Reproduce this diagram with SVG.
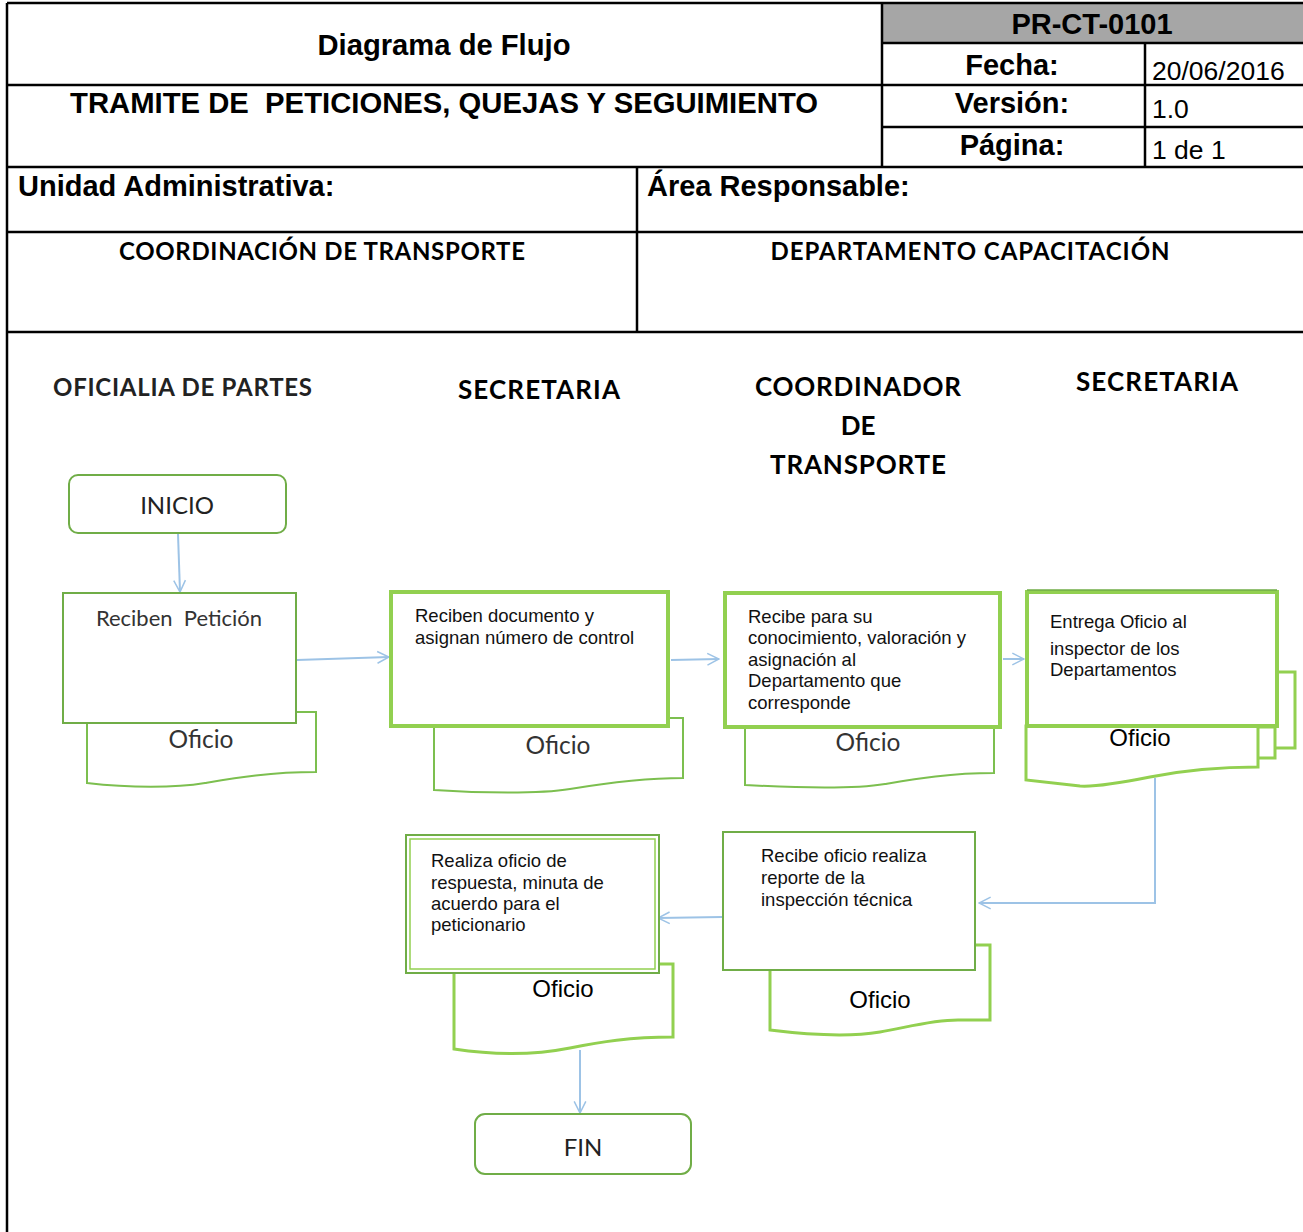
<svg xmlns="http://www.w3.org/2000/svg" width="1303" height="1232" viewBox="0 0 1303 1232">
<defs>
<marker id="arr" viewBox="0 0 12 12" refX="11" refY="6" markerWidth="14" markerHeight="14" markerUnits="userSpaceOnUse" orient="auto">
<path d="M1,1 L11,6 L1,11" fill="none" stroke="#9DC3E6" stroke-width="1.3"/>
</marker>
<style>
.tb{stroke:#000;stroke-width:2.5;fill:none}
.hb{font-family:"Liberation Sans",Arial,sans-serif;font-weight:bold;font-size:29px;fill:#000}
.hr{font-family:"Liberation Sans",Arial,sans-serif;font-size:26.5px;fill:#000}
.cb{font-family:Lato,"Open Sans",sans-serif;font-weight:bold;font-size:24px;fill:#000}
.lane{font-family:Lato,"Open Sans",sans-serif;font-weight:bold;font-size:26px;fill:#000}
.thin{fill:#fff;stroke:#70AD47;stroke-width:2}
.thick{fill:#fff;stroke:#92D050;stroke-width:4}
.doc{fill:#fff;stroke:#92D050;stroke-width:3}
.docthin{fill:#fff;stroke:#7CBF4F;stroke-width:2}
.bt{font-family:"Liberation Sans",Arial,sans-serif;font-size:18.5px;fill:#111}
.ct{font-family:Lato,"Open Sans",sans-serif;font-size:24.5px;fill:#333}
.ot{font-family:"Liberation Sans",Arial,sans-serif;font-size:24px;fill:#000}
.conn{fill:none;stroke:#9DC3E6;stroke-width:2}
</style>
</defs>

<g id="header">
<rect x="882" y="3" width="421" height="40" fill="#A6A6A6"/>
<path class="tb" d="M7,3 H1303 M7,3 V1232 M7,85 H882 M882,3 V167 M882,43 H1303 M882,85 H1303 M882,127 H1303 M1145,43 V167 M7,167 H1303 M637,167 V332 M7,232 H1303 M7,332 H1303"/>
<text class="hb" x="444" y="55" text-anchor="middle" textLength="253" lengthAdjust="spacingAndGlyphs">Diagrama de Flujo</text>
<text class="hb" x="70" y="113" textLength="748" lengthAdjust="spacingAndGlyphs" style="white-space:pre">TRAMITE DE  PETICIONES, QUEJAS Y SEGUIMIENTO</text>
<text class="hb" x="1092" y="34" text-anchor="middle">PR-CT-0101</text>
<text class="hb" x="1012" y="75" text-anchor="middle">Fecha:</text>
<text class="hb" x="1012" y="113" text-anchor="middle">Versión:</text>
<text class="hb" x="1012" y="155" text-anchor="middle">Página:</text>
<text class="hr" x="1152" y="80">20/06/2016</text>
<text class="hr" x="1152" y="118">1.0</text>
<text class="hr" x="1152" y="159">1 de 1</text>
<text class="hb" x="18" y="196">Unidad Administrativa:</text>
<text class="hb" x="647" y="196">Área Responsable:</text>
<text class="cb" x="322" y="260" text-anchor="middle" textLength="406">COORDINACIÓN DE TRANSPORTE</text>
<text class="cb" x="970" y="260" text-anchor="middle" textLength="399">DEPARTAMENTO CAPACITACIÓN</text>
</g>

<g id="lanes">
<text class="lane" x="53" y="396" textLength="259" style="font-size:24px;fill:#222">OFICIALIA DE PARTES</text>
<text class="lane" x="458" y="399" textLength="162">SECRETARIA</text>
<text class="lane" x="858" y="396" text-anchor="middle" textLength="206">COORDINADOR</text>
<text class="lane" x="858" y="435" text-anchor="middle">DE</text>
<text class="lane" x="858" y="474" text-anchor="middle" textLength="176">TRANSPORTE</text>
<text class="lane" x="1076" y="391" textLength="162">SECRETARIA</text>
</g>

<g id="connectors">
<path class="conn" d="M178,534 L180,592" marker-end="url(#arr)"/>
<path class="conn" d="M297,660 L389,657" marker-end="url(#arr)"/>
<path class="conn" d="M671,660 L719,659" marker-end="url(#arr)"/>
<path class="conn" d="M1003,659 L1024,659" marker-end="url(#arr)"/>
<path class="conn" d="M1155,778 V903 H979" marker-end="url(#arr)"/>
<path class="conn" d="M722,917 L658,918" marker-end="url(#arr)"/>
<path class="conn" d="M580,1050 V1113" marker-end="url(#arr)"/>
</g>

<g id="n-inicio">
<rect class="thin" x="69" y="475" width="217" height="58" rx="9"/>
<text class="ct" x="177" y="514" text-anchor="middle" style="font-size:24px;fill:#222">INICIO</text>
</g>

<g id="n-reciben-peticion">
<path class="docthin" d="M87,712 H316 V772 C270,772 235,778 205,783 C175,788 130,788 87,783 Z"/>
<rect class="thin" x="63" y="593" width="233" height="130"/>
<text class="ct" x="179" y="626" text-anchor="middle" style="font-size:22px;white-space:pre">Reciben  Petición</text>
<text class="ct" x="201" y="748" text-anchor="middle">Oficio</text>
</g>

<g id="n-reciben-documento">
<path class="docthin" d="M434,718 H683 V778 C640,778 600,784 570,789 C540,794 480,793 434,790 Z"/>
<rect class="thick" x="391" y="592" width="277" height="134"/>
<text class="bt" x="415" y="622">Reciben documento y</text>
<text class="bt" x="415" y="644">asignan número de control</text>
<text class="ct" x="558" y="754" text-anchor="middle">Oficio</text>
</g>

<g id="n-recibe-coordinador">
<path class="docthin" d="M745,726 H994 V773 C950,773 915,779 885,784 C855,789 800,788 745,785 Z"/>
<rect class="thick" x="725" y="593" width="275" height="134"/>
<text class="bt" x="748" y="623">Recibe para su</text>
<text class="bt" x="748" y="644">conocimiento, valoración y</text>
<text class="bt" x="748" y="666">asignación al</text>
<text class="bt" x="748" y="687">Departamento que</text>
<text class="bt" x="748" y="709">corresponde</text>
<text class="ct" x="868" y="751" text-anchor="middle">Oficio</text>
</g>

<g id="n-entrega-oficio">
<path class="doc" d="M1277,672 H1295 V748 H1275"/>
<path class="doc" d="M1257,727 H1275 V758 H1257"/>
<path class="doc" d="M1026,726 H1258 V767 C1210,767 1180,771 1150,777 C1120,783 1095,787 1080,786 L1026,780 Z"/>
<rect class="thick" x="1027" y="592" width="250" height="134"/>
<line x1="1027" y1="590" x2="1277" y2="590" stroke="#70AD47" stroke-width="1.5"/>
<text class="bt" x="1050" y="628">Entrega Oficio al</text>
<text class="bt" x="1050" y="655">inspector de los</text>
<text class="bt" x="1050" y="676">Departamentos</text>
<text class="ot" x="1140" y="746" text-anchor="middle">Oficio</text>
</g>

<g id="n-recibe-oficio">
<path class="doc" d="M975,945 H990 V1020 H958 C930,1020 905,1028 880,1032 C850,1037 810,1035 770,1030 V970"/>
<rect class="thin" x="723" y="832" width="252" height="138"/>
<text class="bt" x="761" y="862">Recibe oficio realiza</text>
<text class="bt" x="761" y="884">reporte de la</text>
<text class="bt" x="761" y="906">inspección técnica</text>
<text class="ot" x="880" y="1008" text-anchor="middle">Oficio</text>
</g>

<g id="n-realiza-oficio">
<path class="doc" d="M659,964 H673 V1037 C630,1037 600,1042 570,1048 C540,1054 500,1056 454,1049 V973"/>
<rect class="thin" x="406" y="835" width="253" height="138"/>
<rect x="410" y="839" width="245" height="130" fill="none" stroke="#92D050" stroke-width="1.5"/>
<text class="bt" x="431" y="867">Realiza oficio de</text>
<text class="bt" x="431" y="889">respuesta, minuta de</text>
<text class="bt" x="431" y="910">acuerdo para el</text>
<text class="bt" x="431" y="931">peticionario</text>
<text class="ot" x="563" y="997" text-anchor="middle">Oficio</text>
</g>

<g id="n-fin">
<rect class="thin" x="475" y="1114" width="216" height="60" rx="10"/>
<text class="ct" x="583" y="1156" text-anchor="middle" style="font-size:24px;fill:#222">FIN</text>
</g>
</svg>
